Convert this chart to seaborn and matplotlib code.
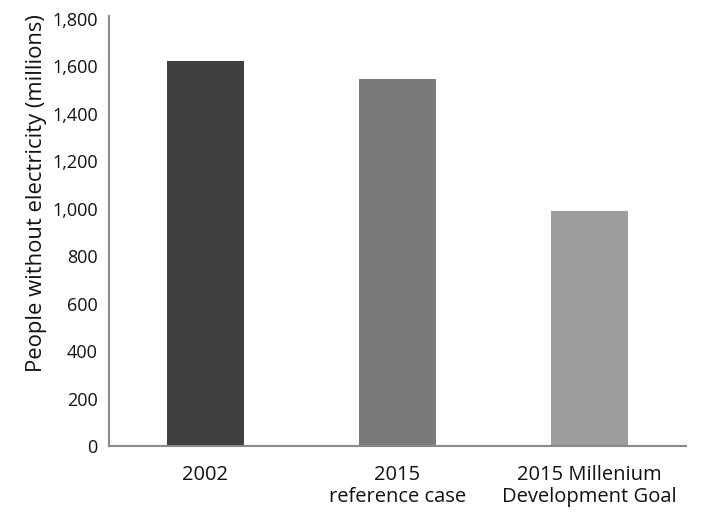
import matplotlib
matplotlib.use("Agg")
import matplotlib.pyplot as plt
import seaborn as sns
import pandas as pd
from matplotlib.ticker import FuncFormatter

# People without electricity, in millions
categories = ["2002", "2015\nreference case", "2015 Millenium\nDevelopment Goal"]
people_millions = [1623, 1546, 990]
bar_colors = ["#404040", "#7a7a7a", "#9d9d9d"]
y_ticks = [0, 200, 400, 600, 800, 1000, 1200, 1400, 1600, 1800]

sns.set_theme(style="white")
plt.rcParams["font.family"] = ["Open Sans", "DejaVu Sans"]

df = pd.DataFrame({"scenario": categories, "people": people_millions})

fig = plt.figure(figsize=(7.15, 5.12), dpi=100)
ax = fig.add_axes([0.1524, 0.1289, 0.807, 0.840])

sns.barplot(data=df, x="scenario", y="people", hue="scenario",
            palette=bar_colors, width=0.4, legend=False, ax=ax,
            saturation=1.0, linewidth=0)

ax.set_xlim(-0.5, 2.5)
ax.set_ylim(0, 1813)
ax.set_yticks(y_ticks)
ax.yaxis.set_major_formatter(FuncFormatter(lambda v, _: f"{int(v):,}"))
ax.tick_params(axis="y", length=0, pad=8, labelsize=13, labelcolor="#111111")
ax.tick_params(axis="x", length=0, pad=14, labelsize=14.5, labelcolor="#111111")
for lbl in ax.get_xticklabels():
    lbl.set_linespacing(1.1)

ax.set_xlabel("")
ax.set_ylabel("People without electricity (millions)", fontsize=15.8,
              color="#111111")
ax.yaxis.set_label_coords(-0.108, 0.588)

for side in ("top", "right"):
    ax.spines[side].set_visible(False)
for side in ("left", "bottom"):
    ax.spines[side].set_color("#8a8a8a")
    ax.spines[side].set_linewidth(1.5)

fig.savefig("out.png", dpi=100)
